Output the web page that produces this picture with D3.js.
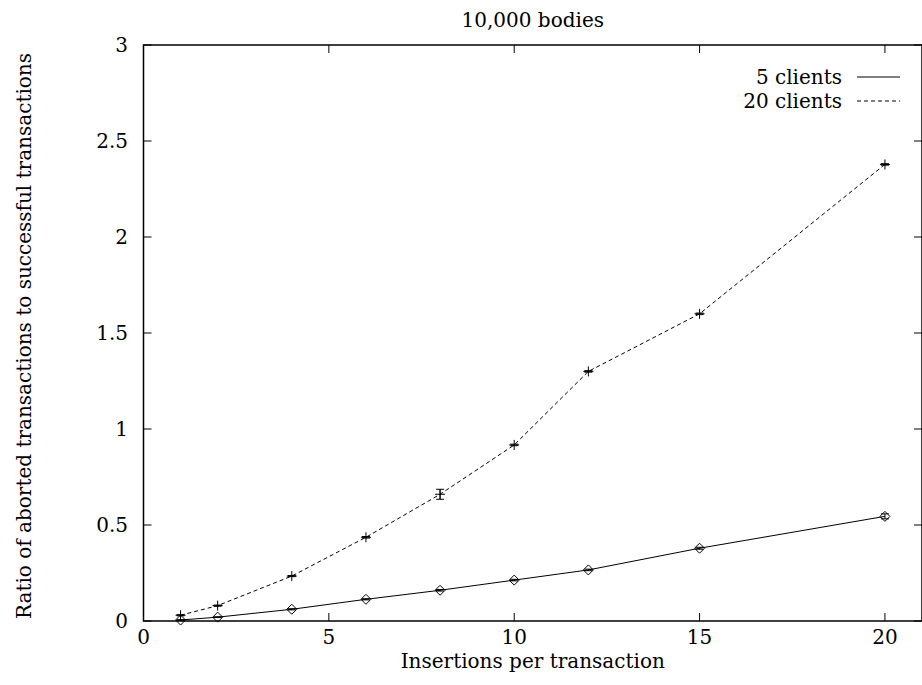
<!DOCTYPE html>
<html lang="en">
    <head>
        <meta charset="UTF-8">
        <title>10,000 bodies</title>
        <style>
        body {
            margin: 0;
            overflow: hidden;
            background: #fff;
        }

        text {
            font-family: "DejaVu Serif", serif;
            fill: #000;
        }

        .tick-label {
            font-size: 20px;
        }

        .axis-title {
            font-size: 20px;
        }

        .frame {
            fill: none;
            stroke: #000;
            stroke-width: 1.5px;
        }
        </style>
    </head>
    <body>
        <svg></svg>
        <script src="https://d3js.org/d3.v7.min.js"></script>
        <script>
    const width = 922, height = 685;

    // Data
    const insertions = [1, 2, 4, 6, 8, 10, 12, 15, 20];
    const clients5 = [0.005, 0.02, 0.061, 0.113, 0.16, 0.213, 0.266, 0.379, 0.545];
    const clients5Err = [0.002, 0.002, 0.003, 0.003, 0.004, 0.004, 0.004, 0.005, 0.013];
    const clients20 = [0.03, 0.08, 0.234, 0.436, 0.66, 0.917, 1.30, 1.60, 2.378];
    const clients20Err = [0.003, 0.003, 0.003, 0.004, 0.026, 0.004, 0.004, 0.004, 0.004];

    const xTicks = [0, 5, 10, 15, 20];
    const yTicks = [0, 0.5, 1, 1.5, 2, 2.5, 3];
    const legendLabels = ["5 clients", "20 clients"];

    const series = [
        { name: legendLabels[0], values: clients5, errs: clients5Err, dash: null, marker: "diamond" },
        { name: legendLabels[1], values: clients20, errs: clients20Err, dash: "4,3", marker: "plus" }
    ];

    const plotLeft = 143.5, plotRight = 922, plotTop = 45, plotBottom = 621;

    const svg = d3.select("svg")
        .attr("width", width)
        .attr("height", height);

    const x = d3.scaleLinear().domain([0, 21]).range([plotLeft, plotRight]);
    const y = d3.scaleLinear().domain([0, 3]).range([plotBottom, plotTop]);

    // Title
    svg.append("text")
        .attr("class", "axis-title")
        .attr("x", (plotLeft + plotRight) / 2)
        .attr("y", 27)
        .attr("text-anchor", "middle")
        .text("10,000 bodies");

    // Ticks on all four sides, pointing inwards
    const tickLen = 8;
    const ticks = svg.append("g").attr("stroke", "#000").attr("stroke-width", 1);
    xTicks.forEach(t => {
        ticks.append("line").attr("x1", x(t)).attr("x2", x(t)).attr("y1", plotBottom).attr("y2", plotBottom - tickLen);
        ticks.append("line").attr("x1", x(t)).attr("x2", x(t)).attr("y1", plotTop).attr("y2", plotTop + tickLen);
    });
    yTicks.forEach(t => {
        ticks.append("line").attr("x1", plotLeft).attr("x2", plotLeft + tickLen).attr("y1", y(t)).attr("y2", y(t));
        ticks.append("line").attr("x1", plotRight).attr("x2", plotRight - tickLen).attr("y1", y(t)).attr("y2", y(t));
    });

    svg.append("rect")
        .attr("class", "frame")
        .attr("x", plotLeft)
        .attr("y", plotTop)
        .attr("width", plotRight - plotLeft)
        .attr("height", plotBottom - plotTop);

    // Tick labels
    svg.append("g").selectAll("text")
        .data(xTicks)
        .enter().append("text")
        .attr("class", "tick-label")
        .attr("x", d => x(d))
        .attr("y", 644)
        .attr("text-anchor", "middle")
        .text(d => d);

    svg.append("g").selectAll("text")
        .data(yTicks)
        .enter().append("text")
        .attr("class", "tick-label")
        .attr("x", 128)
        .attr("y", d => y(d) + 7)
        .attr("text-anchor", "end")
        .text(d => d);

    // Axis titles
    svg.append("text")
        .attr("class", "axis-title")
        .attr("x", (plotLeft + plotRight) / 2)
        .attr("y", 668)
        .attr("text-anchor", "middle")
        .text("Insertions per transaction");

    svg.append("text")
        .attr("class", "axis-title")
        .attr("transform", `translate(31,${(plotTop + plotBottom) / 2 + 3}) rotate(-90)`)
        .attr("text-anchor", "middle")
        .text("Ratio of aborted transactions to successful transactions");

    const line = d3.line()
        .x(d => x(d.x))
        .y(d => y(d.y));

    const plot = svg.append("g");

    series.forEach(s => {
        const pts = insertions.map((v, i) => ({ x: v, y: s.values[i], e: s.errs[i] }));

        plot.append("path")
            .datum(pts)
            .attr("d", line)
            .attr("fill", "none")
            .attr("stroke", "#000")
            .attr("stroke-width", 1)
            .attr("stroke-dasharray", s.dash);

        // Error bars
        const eb = plot.append("g").attr("stroke", "#000").attr("stroke-width", 1);
        pts.forEach(p => {
            eb.append("line").attr("x1", x(p.x)).attr("x2", x(p.x)).attr("y1", y(p.y - p.e)).attr("y2", y(p.y + p.e));
            eb.append("line").attr("x1", x(p.x) - 4).attr("x2", x(p.x) + 4).attr("y1", y(p.y - p.e)).attr("y2", y(p.y - p.e));
            eb.append("line").attr("x1", x(p.x) - 4).attr("x2", x(p.x) + 4).attr("y1", y(p.y + p.e)).attr("y2", y(p.y + p.e));
        });

        // Point markers
        const mk = plot.append("g").selectAll("path")
            .data(pts)
            .enter().append("path")
            .attr("transform", d => `translate(${x(d.x)},${y(d.y)})`)
            .attr("stroke", "#000")
            .attr("stroke-width", 1)
            .attr("fill", "none");
        if (s.marker === "diamond") {
            mk.attr("d", "M0,-5L5,0L0,5L-5,0Z");
        } else {
            mk.attr("d", "M-5,0L5,0M0,-5L0,5");
        }
    });

    // Legend
    const legend = svg.append("g");
    series.forEach((s, i) => {
        const ly = 77 + i * 24;
        legend.append("text")
            .attr("class", "axis-title")
            .attr("x", 842)
            .attr("y", ly + 7)
            .attr("text-anchor", "end")
            .text(s.name);
        legend.append("line")
            .attr("x1", 857)
            .attr("x2", 900)
            .attr("y1", ly)
            .attr("y2", ly)
            .attr("stroke", "#000")
            .attr("stroke-width", 1)
            .attr("stroke-dasharray", s.dash);
    });
        </script>
    </body>
</html>
